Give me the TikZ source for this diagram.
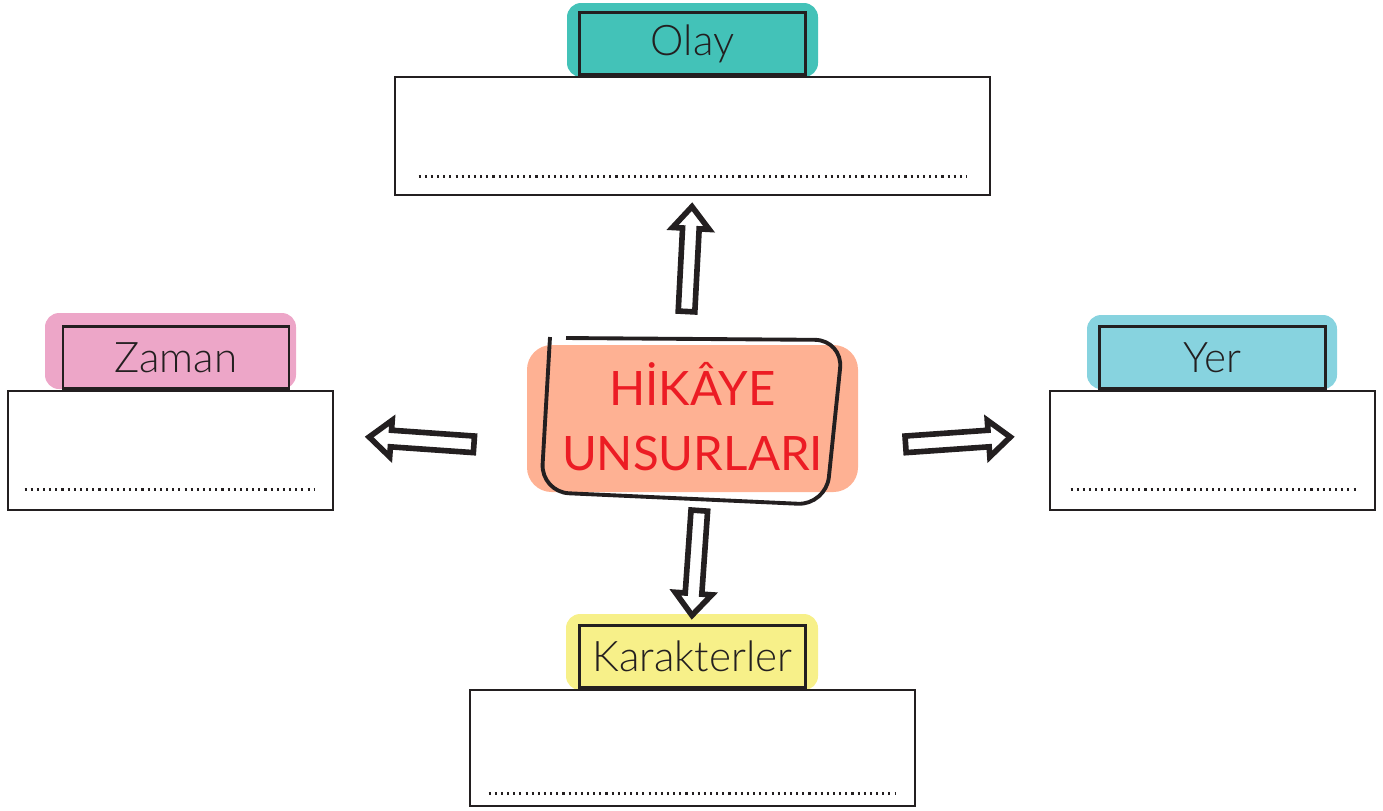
\documentclass[tikz,border=0pt]{standalone}
\usepackage{fontspec}
\setmainfont{Lato Light}
\newfontfamily\titlefont{Lato}
\usetikzlibrary{shapes.arrows}

\definecolor{olaycol}{RGB}{67,194,184}
\definecolor{zamancol}{RGB}{237,166,200}
\definecolor{yercol}{RGB}{135,211,223}
\definecolor{karcol}{RGB}{247,240,137}
\definecolor{centercol}{RGB}{254,177,147}
\definecolor{titlered}{RGB}{236,28,36}
\definecolor{inkcol}{RGB}{35,31,32}

\tikzset{
  bigbox/.style={draw=inkcol, line width=0.8pt, inner sep=0pt},
  tabbox/.style={draw=inkcol, line width=0.7pt, inner sep=0pt, minimum width=2.26cm,
    minimum height=0.62cm, text=inkcol, font=\fontsize{12}{14}\selectfont},
  blob/.style={rounded corners=4pt},
  dotrow/.style={inkcol, line width=0.9pt, dash pattern=on 0.6pt off 1.15pt},
  blockarrow/.style={single arrow, draw=inkcol, fill=white, line width=1.6pt,
    minimum height=1.05cm, inner xsep=0pt, inner ysep=0.055cm, text height=0pt,
    text depth=0pt, single arrow head extend=0.1cm, single arrow tip angle=80}
}

\begin{document}
\begin{tikzpicture}
    \useasboundingbox (0,0) rectangle (13.83,-8.10);

    % colored patches behind the tabs
    \fill[blob, olaycol] (5.67,-0.03) rectangle (8.18,-0.77);
    \fill[blob, zamancol] (0.45,-3.13) rectangle (2.96,-3.89);
    \fill[blob, yercol] (10.87,-3.15) rectangle (13.37,-3.89);
    \fill[blob, karcol] (5.66,-6.14) rectangle (8.18,-6.90);
    \fill[rounded corners=7pt, centercol] (5.27,-3.45) rectangle (8.58,-4.92);

    % boxes
    \node[bigbox, minimum width=5.95cm, minimum height=1.18cm] (olay) at (6.925,-1.36) {};
    \node[tabbox, anchor=south] (olaytab) at (olay.north) {Olay};
    \node[bigbox, minimum width=3.25cm, minimum height=1.19cm] (zaman) at (1.705,-4.505) {};
    \node[tabbox, anchor=south] (zamantab) at ([xshift=0.055cm]zaman.north) {Zaman};
    \node[bigbox, minimum width=3.25cm, minimum height=1.19cm] (yer) at (12.125,-4.505) {};
    \node[tabbox, anchor=south] (yertab) at (yer.north) {Yer};
    \node[bigbox, minimum width=4.45cm, minimum height=1.16cm] (karakter) at (6.925,-7.48) {};
    \node[tabbox, anchor=south] (karaktertab) at (karakter.north) {Karakterler};

    % dotted writing lines
    \draw[dotrow] ([xshift=0.25cm,yshift=0.2cm]olay.south west) -- ([xshift=-0.25cm,yshift=0.2cm]olay.south east);
    \draw[dotrow] ([xshift=0.18cm,yshift=0.22cm]zaman.south west) -- ([xshift=-0.2cm,yshift=0.22cm]zaman.south east);
    \draw[dotrow] ([xshift=0.22cm,yshift=0.22cm]yer.south west) -- ([xshift=-0.17cm,yshift=0.22cm]yer.south east);
    \draw[dotrow] ([xshift=0.2cm,yshift=0.14cm]karakter.south west) -- ([xshift=-0.2cm,yshift=0.14cm]karakter.south east);

    % center frame and title
    \draw[inkcol, line width=1.1pt, rounded corners=8pt]
      (5.50,-3.37) -- (5.41,-4.92) -- (8.26,-5.05) -- (8.43,-3.40) -- (5.66,-3.38);
    \node[align=center, text=titlered, font=\titlefont\fontsize{13.5}{18.5}\selectfont] (hikaye) at (6.925,-4.17)
      {HİKÂYE\\UNSURLARI};

    % block arrows
    \node[blockarrow, rotate=87] (upar) at (6.89,-2.64) {};
    \node[blockarrow, rotate=-94] (downar) at (6.96,-5.58) {};
    \node[blockarrow, rotate=176] (leftar) at (4.265,-4.41) {};
    \node[blockarrow, rotate=4] (rightar) at (9.53,-4.41) {};
\end{tikzpicture}
\end{document}
